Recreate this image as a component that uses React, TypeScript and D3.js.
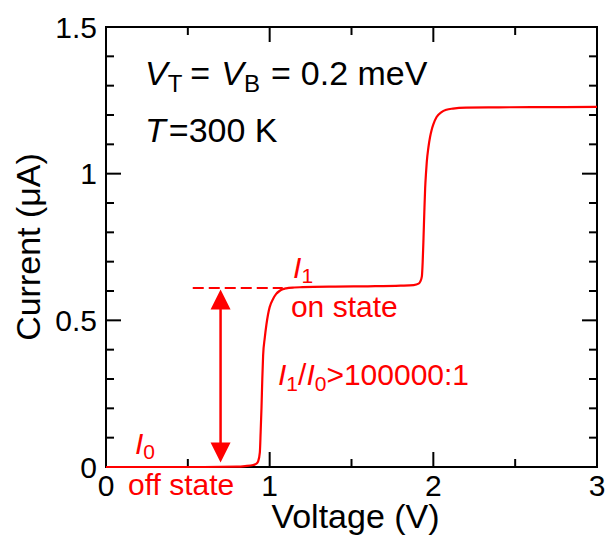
import React from "react";
import * as d3 from "d3";

const voltage = [0, 0.2, 0.4, 0.6, 0.8, 0.85, 0.9, 0.92, 0.93, 0.94, 0.945, 0.95, 0.955, 0.96, 0.97, 0.98, 0.99, 1.0, 1.02, 1.04, 1.06, 1.08, 1.1, 1.15, 1.2, 1.4, 1.6, 1.8, 1.88, 1.91, 1.92, 1.93, 1.935, 1.94, 1.945, 1.95, 1.955, 1.96, 1.97, 1.98, 1.99, 2.0, 2.02, 2.05, 2.08, 2.12, 2.2, 2.4, 2.6, 2.8, 3.0];
const current = [0, 0, 0, 0, 0.001, 0.003, 0.007, 0.012, 0.02, 0.05, 0.12, 0.2, 0.3, 0.38, 0.44, 0.485, 0.52, 0.545, 0.572, 0.59, 0.6, 0.606, 0.609, 0.612, 0.613, 0.615, 0.616, 0.618, 0.62, 0.625, 0.632, 0.65, 0.7, 0.78, 0.87, 0.95, 1.0, 1.04, 1.09, 1.125, 1.15, 1.168, 1.193, 1.21, 1.218, 1.222, 1.225, 1.226, 1.227, 1.227, 1.228];

const xMajorTicks = [0, 1, 2, 3];
const xTickLabels = ["0", "1", "2", "3"];
const xMinorTicks = [0.5, 1.5, 2.5];
const yMajorTicks = [0, 0.5, 1, 1.5];
const yTickLabels = ["0", "0.5", "1", "1.5"];
const yMinorTicks = [0.1, 0.2, 0.3, 0.4, 0.6, 0.7, 0.8, 0.9, 1.1, 1.2, 1.3, 1.4];

const onLevel = [0.61];
const dashRange = [0.53, 1.08];
const arrowV = [0.7];
const arrowRange = [0.015, 0.605];

const RED = "#ff0000";
const FONT = "'Liberation Sans', Arial, Helvetica, sans-serif";

export default function App() {
  const W = 605, H = 537;
  const L = 106, R = 597, T = 27, B = 467;
  const x = d3.scaleLinear().domain([0, 3]).range([L, R]);
  const y = d3.scaleLinear().domain([0, 1.5]).range([B, T]);
  const pts = voltage.map((v, i) => [v, current[i]] as [number, number]);
  const line = d3.line<[number, number]>().x(d => x(d[0])).y(d => y(d[1])).curve(d3.curveMonotoneX);

  const major = 15, minor = 8;
  const ax = x(arrowV[0]);
  const aTop = y(arrowRange[1]);
  const aBot = y(arrowRange[0]);
  const ah = 20, aw = 10;

  return (
    <svg width={W} height={H} style={{ position: "absolute", left: 0, top: 0, background: "#fff" }} fontFamily={FONT}>
      <rect x={0} y={0} width={W} height={H} fill="#fff" />
      {/* ticks */}
      <g stroke="#000" strokeWidth={2}>
        {xMajorTicks.map(t => (
          <g key={"xm" + t}>
            <line x1={x(t)} x2={x(t)} y1={B} y2={B - major} />
            <line x1={x(t)} x2={x(t)} y1={T} y2={T + major} />
          </g>
        ))}
        {xMinorTicks.map(t => (
          <g key={"xn" + t}>
            <line x1={x(t)} x2={x(t)} y1={B} y2={B - minor} />
            <line x1={x(t)} x2={x(t)} y1={T} y2={T + minor} />
          </g>
        ))}
        {yMajorTicks.map(t => (
          <g key={"ym" + t}>
            <line x1={L} x2={L + major} y1={y(t)} y2={y(t)} />
            <line x1={R} x2={R - major} y1={y(t)} y2={y(t)} />
          </g>
        ))}
        {yMinorTicks.map(t => (
          <g key={"yn" + t}>
            <line x1={L} x2={L + minor} y1={y(t)} y2={y(t)} />
            <line x1={R} x2={R - minor} y1={y(t)} y2={y(t)} />
          </g>
        ))}
        <rect x={L} y={T} width={R - L} height={B - T} fill="none" />
      </g>
      {/* tick labels */}
      <g fontSize={30} fill="#000">
        {xMajorTicks.map((t, i) => (
          <text key={"xl" + t} x={x(t)} y={B + 29} textAnchor="middle">{xTickLabels[i]}</text>
        ))}
        {yMajorTicks.map((t, i) => (
          <text key={"yl" + t} x={L - 9} y={y(t) + 10.7} textAnchor="end">{yTickLabels[i]}</text>
        ))}
      </g>
      {/* axis titles */}
      <text x={(L + R) / 2 + 4} y={528} textAnchor="middle" fontSize={34}>Voltage (V)</text>
      <text transform={`translate(40, ${(T + B) / 2}) rotate(-90)`} textAnchor="middle" fontSize={34}>Current (μA)</text>

      {/* dashed level */}
      <line x1={x(dashRange[0])} x2={x(dashRange[1])} y1={y(onLevel[0])} y2={y(onLevel[0])} stroke={RED} strokeWidth={2} strokeDasharray="11,5" />
      {/* arrow */}
      <line x1={ax} x2={ax} y1={aTop + ah - 2} y2={aBot - ah + 2} stroke={RED} strokeWidth={2.5} />
      <path d={`M${ax},${aTop} L${ax - aw},${aTop + ah} L${ax + aw},${aTop + ah} Z`} fill={RED} />
      <path d={`M${ax},${aBot} L${ax - aw},${aBot - ah} L${ax + aw},${aBot - ah} Z`} fill={RED} />

      {/* curve */}
      <path d={line(pts) || ""} fill="none" stroke={RED} strokeWidth={2.2} />

      {/* annotations */}
      <g fill={RED} fontSize={30}>
        <text x={x(0.177)} y={y(0.045)}>
          <tspan fontStyle="italic">I</tspan>
          <tspan fontSize={21} dy={5}>0</tspan>
        </text>
        <text x={128} y={495}>off state</text>
        <text x={x(1.143)} y={y(0.645)}>
          <tspan fontStyle="italic">I</tspan>
          <tspan fontSize={21} dy={5}>1</tspan>
        </text>
        <text x={x(1.13)} y={y(0.511)}>on state</text>
        <text x={x(1.051)} y={y(0.28)}>
          <tspan fontStyle="italic">I</tspan>
          <tspan fontSize={21} dy={6}>1</tspan>
          <tspan dy={-6}>/</tspan>
          <tspan fontStyle="italic">I</tspan>
          <tspan fontSize={21} dy={6}>0</tspan>
          <tspan dy={-6}>&gt;100000:1</tspan>
        </text>
      </g>
      <g fill="#000" fontSize={34}>
        <text x={145} y={85}>
          <tspan fontStyle="italic">V</tspan>
          <tspan fontSize={24} dy={7}>T</tspan>
          <tspan dy={-7} dx={8}>=</tspan>
          <tspan fontStyle="italic" dx={11}>V</tspan>
          <tspan fontSize={24} dy={7}>B</tspan>
          <tspan dy={-7} dx={11}>=</tspan>
          <tspan dx={10}>0.2 meV</tspan>
        </text>
        <text x={145} y={141.7}>
          <tspan fontStyle="italic">T</tspan>
          <tspan dx={3}>=300 K</tspan>
        </text>
      </g>
    </svg>
  );
}
